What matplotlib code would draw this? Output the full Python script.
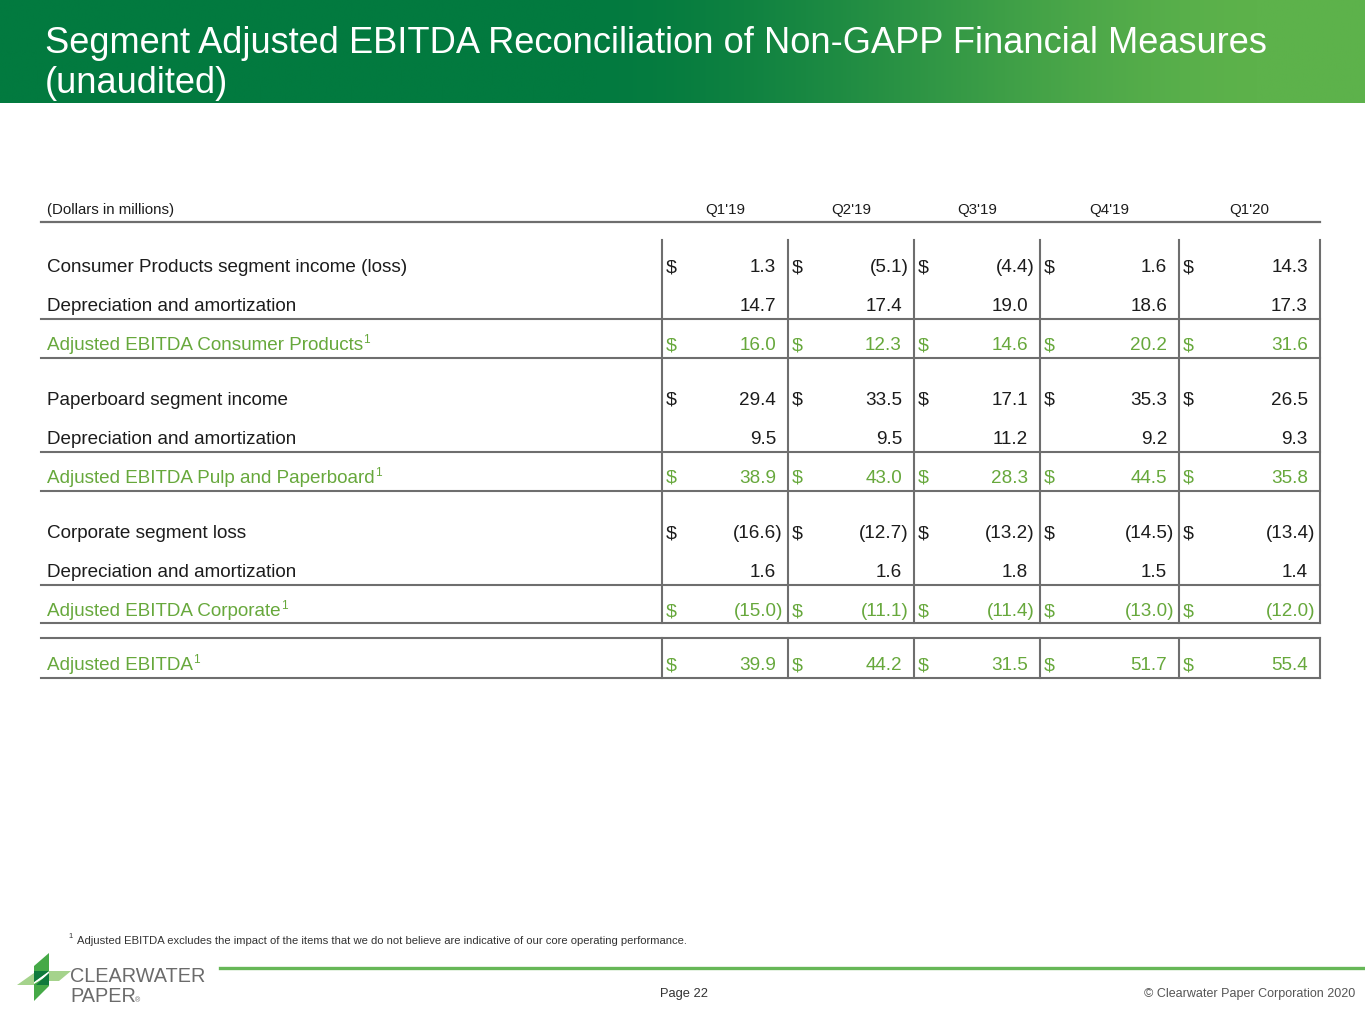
import numpy as np
import matplotlib.pyplot as plt
from matplotlib.patches import Polygon
from matplotlib.colors import LinearSegmentedColormap

plt.rcParams['font.family'] = ['Liberation Sans', 'DejaVu Sans']

title_lines = ["Segment Adjusted EBITDA Reconciliation of Non-GAPP Financial Measures", "(unaudited)"]
quarters = ["Q1'19", "Q2'19", "Q3'19", "Q4'19", "Q1'20"]

consumer_income = [1.3, -5.1, -4.4, 1.6, 14.3]
consumer_da = [14.7, 17.4, 19.0, 18.6, 17.3]
consumer_adj = [16.0, 12.3, 14.6, 20.2, 31.6]
paper_income = [29.4, 33.5, 17.1, 35.3, 26.5]
paper_da = [9.5, 9.5, 11.2, 9.2, 9.3]
paper_adj = [38.9, 43.0, 28.3, 44.5, 35.8]
corp_loss = [-16.6, -12.7, -13.2, -14.5, -13.4]
corp_da = [1.6, 1.6, 1.8, 1.5, 1.4]
corp_adj = [-15.0, -11.1, -11.4, -13.0, -12.0]
total_adj = [39.9, 44.2, 31.5, 51.7, 55.4]

# label, values, dollar sign, highlighted, footnote mark
rows = [
    ("Consumer Products segment income (loss)", consumer_income, True, False, False),
    ("Depreciation and amortization", consumer_da, False, False, False),
    ("Adjusted EBITDA Consumer Products", consumer_adj, True, True, True),
    ("Paperboard segment income", paper_income, True, False, False),
    ("Depreciation and amortization", paper_da, False, False, False),
    ("Adjusted EBITDA Pulp and Paperboard", paper_adj, True, True, True),
    ("Corporate segment loss", corp_loss, True, False, False),
    ("Depreciation and amortization", corp_da, False, False, False),
    ("Adjusted EBITDA Corporate", corp_adj, True, True, True),
    ("Adjusted EBITDA", total_adj, True, True, True),
]
footnote = "Adjusted EBITDA excludes the impact of the items that we do not believe are indicative of our core operating performance."

GREEN_TXT = "#67a83c"
DARK_TXT = "#1c1c1c"
LINE = "#6e6e6e"

W, H = 1365, 1024
fig = plt.figure(figsize=(W / 100, H / 100), dpi=100)
ax = fig.add_axes([0, 0, 1, 1])
ax.set_xlim(0, W)
ax.set_ylim(H, 0)
ax.axis("off")

# header band with gradient
xs = np.linspace(0, 1, 600)
t = np.clip((xs - 0.42) / 0.52, 0, 1)
t = t * t * (3 - 2 * t)
cmap = LinearSegmentedColormap.from_list("hdr", ["#027a3f", "#5db24b"])
ax.imshow(t[None, :], cmap=cmap, vmin=0, vmax=1, aspect="auto",
          extent=[0, W, 103, 0], zorder=0)
ax.text(45, 53, title_lines[0], color="white", fontsize=26.1, va="baseline")
ax.text(45, 93, title_lines[1], color="white", fontsize=26.1, va="baseline")

# table geometry
vlines = [662, 788, 914, 1040, 1179, 1320]
left, right = 41, 1320
row_y = [265, 304, 343, 398, 437, 476, 531, 570, 609, 663]
hlines = [319, 358, 452, 491, 585, 623, 638, 678]

ax.text(47, 210, "(Dollars in millions)", fontsize=10.8, color=DARK_TXT, va="center")
for i, q in enumerate(quarters):
    ax.text((vlines[i] + vlines[i + 1]) / 2, 210, q, fontsize=10.8, color=DARK_TXT,
            ha="center", va="center")
ax.plot([left, right], [222, 222], color=LINE, lw=1.6)

for y in hlines:
    ax.plot([left, right], [y, y], color=LINE, lw=1.5)
for x in vlines:
    ax.plot([x, x], [240, 623], color=LINE, lw=1.5)
    ax.plot([x, x], [638, 678], color=LINE, lw=1.5)

fig.canvas.draw()
renderer = fig.canvas.get_renderer()

for (label, vals, dollar, hi, mark), y in zip(rows, row_y):
    c = GREEN_TXT if hi else DARK_TXT
    tx = ax.text(47, y + 7, label, fontsize=13.6, color=c, va="baseline")
    if mark:
        bb = tx.get_window_extent(renderer)
        ax.text(bb.x1, y, "1", fontsize=8.5, color=c, va="baseline")
    for i, v in enumerate(vals):
        if dollar:
            ax.text(vlines[i] + 4, y + 7, "$", fontsize=14, color=c, va="baseline")
        rx = vlines[i + 1] - 12
        if v < 0:
            ax.text(rx + 7, y + 7, f"({abs(v):.1f})", fontsize=13.6, color=c,
                    ha="right", va="baseline")
        else:
            ax.text(rx, y + 7, f"{v:.1f}", fontsize=13.6, color=c,
                    ha="right", va="baseline")

# footnote and footer
ax.text(68, 938, "1", fontsize=5.5, color="#333333", va="baseline")
ax.text(77, 941, footnote, fontsize=8.15, color="#333333", va="center")
ax.plot([220, W], [968, 968], color="#66b757", lw=2.4)
ax.text(684, 994, "Page 22", fontsize=9.3, color="#333333", ha="center", va="center")
ax.text(1355, 994, "\u00a9 Clearwater Paper Corporation 2020", fontsize=9.0,
        color="#555555", ha="right", va="center")

# logo
logo = [
    ([(49, 953), (49, 971), (34, 982), (34, 966)], "#45a947"),
    ([(49, 975), (49, 986), (34, 1001), (34, 984)], "#45a947"),
    ([(17, 985), (34, 973), (34, 985)], "#a5d38c"),
    ([(49, 971), (71, 971), (59, 981), (49, 981)], "#a5d38c"),
    ([(34, 971), (49, 971), (34, 982)], "#0f7a3c"),
    ([(49, 973), (49, 985), (36, 985)], "#0f7a3c"),
]
for pts, col in logo:
    ax.add_patch(Polygon(pts, closed=True, facecolor=col, edgecolor="none"))
ax.text(70, 982, "CLEARWATER", fontsize=14.3, color="#6b6b6b", va="baseline")
ax.text(70, 1002, "PAPER", fontsize=14.3, color="#6b6b6b", va="baseline")
ax.text(135, 1002, "\u00ae", fontsize=5, color="#6b6b6b", va="baseline")

fig.savefig("out.png", dpi=100)
